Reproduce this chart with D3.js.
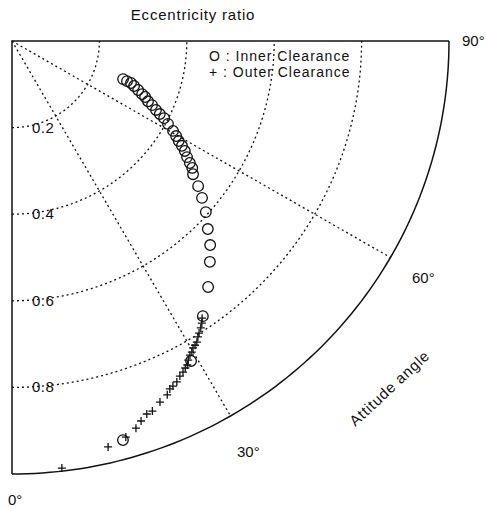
<!DOCTYPE html>
<html>
<head>
<meta charset="utf-8">
<script src="https://cdn.jsdelivr.net/npm/d3@7"></script>
<style>
  body { margin: 0; background: #fff; }
  text { font-family: "Liberation Sans", Arial, sans-serif; fill: #111; }
</style>
</head>
<body>
<script>
'use strict'

// eccentricity ratio / attitude angle (deg)
const innerEcc = [0.269, 0.279, 0.289, 0.298, 0.310, 0.322, 0.331, 0.341, 0.353, 0.366,
  0.378, 0.391, 0.405, 0.423, 0.435, 0.446, 0.458, 0.470, 0.482, 0.495,
  0.506, 0.516, 0.542, 0.566, 0.594, 0.624, 0.654, 0.682, 0.724, 0.771,
  0.845, 0.956]
const innerAng = [70.9, 70.6, 70.4, 69.6, 68.6, 67.6, 67.0, 65.9, 65.2, 64.2,
  63.5, 62.9, 61.8, 60.6, 59.7, 58.8, 58.1, 57.3, 56.2, 55.3,
  54.6, 53.4, 51.8, 50.2, 48.3, 45.9, 43.9, 41.6, 38.3, 34.5,
  29.0, 15.4]

const outerEcc = [0.774, 0.783, 0.791, 0.799, 0.805, 0.814, 0.818, 0.821, 0.828, 0.832,
  0.840, 0.849, 0.853, 0.859, 0.864, 0.873, 0.878, 0.881, 0.891, 0.900,
  0.913, 0.915, 0.926, 0.938, 0.951, 0.963, 0.993]
const outerAng = [34.2, 33.7, 33.1, 32.4, 31.9, 31.3, 30.8, 30.3, 29.8, 29.3,
  28.7, 28.2, 27.7, 27.1, 26.4, 25.6, 24.8, 24.2, 23.5, 22.1,
  20.6, 19.7, 18.6, 17.6, 15.9, 13.2, 6.6]

const ringTicks = [0.2, 0.4, 0.6, 0.8]
const ringLabels = ['0.2', '0.4', '0.6', '0.8']
const spokeTicks = [30, 60]
const angleLabels = ['0°', '30°', '60°', '90°']
const legendLabels = ['O : Inner Clearance', '+ : Outer Clearance']

const svg = d3.select('body').append('svg')
  .attr('width', 486)
  .attr('height', 509)

// the scan is a touch wider than tall
const x = d3.scaleLinear().domain([0, 1]).range([12, 449])
const y = d3.scaleLinear().domain([0, 1]).range([41, 474])
const rad = d => d * Math.PI / 180
const px = (e, a) => x(e * Math.sin(rad(a)))
const py = (e, a) => y(e * Math.cos(rad(a)))

const angles = d3.range(0, 90.5, 1)
const arc = r => d3.line()
  .x(a => px(r, a))
  .y(a => py(r, a))(angles)

const g = svg.append('g')

// dotted rings
g.selectAll('path.ring')
  .data(ringTicks)
  .enter()
  .append('path')
  .attr('class', 'ring')
  .attr('d', d => arc(d))
  .attr('fill', 'none')
  .attr('stroke', '#111')
  .attr('stroke-width', 1.3)
  .attr('stroke-dasharray', '2,3')

// dotted spokes
g.selectAll('line.spoke')
  .data(spokeTicks)
  .enter()
  .append('line')
  .attr('class', 'spoke')
  .attr('x1', px(0, 0)).attr('y1', py(0, 0))
  .attr('x2', d => px(1, d)).attr('y2', d => py(1, d))
  .attr('stroke', '#111')
  .attr('stroke-width', 1.3)
  .attr('stroke-dasharray', '2,3')

// frame
const frame = 'M' + px(1, 0) + ',' + py(1, 0) +
  'L' + px(0, 0) + ',' + py(0, 0) +
  'L' + px(1, 90) + ',' + py(1, 90)
g.append('path')
  .attr('d', frame)
  .attr('fill', 'none')
  .attr('stroke', '#111')
  .attr('stroke-width', 1.5)
g.append('path')
  .attr('d', arc(1))
  .attr('fill', 'none')
  .attr('stroke', '#111')
  .attr('stroke-width', 1.5)

// ring labels
g.selectAll('text.rl')
  .data(ringTicks)
  .enter()
  .append('text')
  .attr('class', 'rl')
  .attr('x', 32)
  .attr('y', d => py(d, 0) + 5)
  .attr('font-size', '15px')
  .attr('letter-spacing', '0.5px')
  .text((d, i) => ringLabels[i])

// angle labels
const angPos = [[8, 505], [237, 457], [412, 283], [462, 46]]
svg.selectAll('text.al')
  .data(angleLabels)
  .enter()
  .append('text')
  .attr('class', 'al')
  .attr('x', (d, i) => angPos[i][0])
  .attr('y', (d, i) => angPos[i][1])
  .attr('font-size', '15px')
  .text(d => d)

svg.append('text')
  .attr('x', 193)
  .attr('y', 20)
  .attr('text-anchor', 'middle')
  .attr('font-size', '15px')
  .attr('letter-spacing', '0.8px')
  .text('Eccentricity ratio')

svg.append('text')
  .attr('transform', 'translate(393,392) rotate(-43)')
  .attr('text-anchor', 'middle')
  .attr('font-size', '15px')
  .attr('letter-spacing', '0.8px')
  .text('Attitude angle')

// legend
svg.selectAll('text.lg')
  .data(legendLabels)
  .enter()
  .append('text')
  .attr('class', 'lg')
  .attr('x', 209)
  .attr('y', (d, i) => 61 + i * 16)
  .attr('font-size', '14px')
  .attr('letter-spacing', '1px')
  .text(d => d)

// inner clearance: circles
const inner = innerEcc.map((e, i) => [e, innerAng[i]])
g.selectAll('circle.inner')
  .data(inner)
  .enter()
  .append('circle')
  .attr('class', 'inner')
  .attr('cx', d => px(d[0], d[1]))
  .attr('cy', d => py(d[0], d[1]))
  .attr('r', 5.3)
  .attr('fill', 'none')
  .attr('stroke', '#111')
  .attr('stroke-width', 1.3)

// outer clearance: plus marks
const outer = outerEcc.map((e, i) => [e, outerAng[i]])
g.selectAll('path.outer')
  .data(outer)
  .enter()
  .append('path')
  .attr('class', 'outer')
  .attr('transform', d => 'translate(' + [px(d[0], d[1]), py(d[0], d[1])] + ')')
  .attr('d', 'M-4,0H4M0,-4V4')
  .attr('stroke', '#111')
  .attr('stroke-width', 1.3)
</script>
</body>
</html>
